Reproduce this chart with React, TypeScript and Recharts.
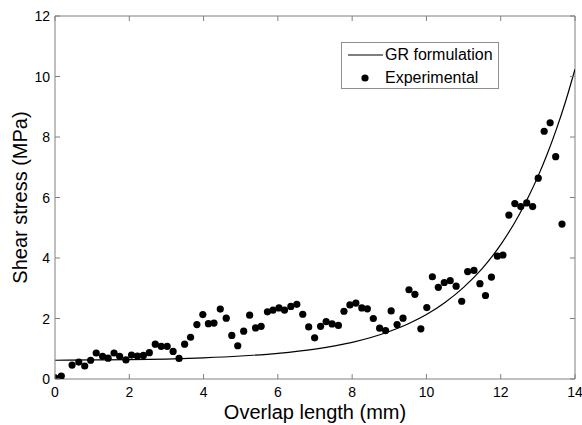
import React from "react";
import {
  ComposedChart,
  Line,
  Scatter,
  XAxis,
  YAxis,
  Legend,
  ReferenceLine,
} from "recharts";

// experimental points
const expX = [
  0.0, 0.17, 0.46, 0.64, 0.8, 0.96, 1.11, 1.28, 1.43, 1.59, 1.74, 1.91, 2.06,
  2.22, 2.38, 2.54, 2.7, 2.86, 3.02, 3.18, 3.34, 3.49, 3.65, 3.82, 3.98, 4.13,
  4.28, 4.45, 4.61, 4.76, 4.92, 5.08, 5.24, 5.4, 5.55, 5.72, 5.87, 6.03, 6.18,
  6.35, 6.51, 6.67, 6.83, 6.99, 7.15, 7.3, 7.46, 7.63, 7.78, 7.94, 8.1, 8.26,
  8.41, 8.57, 8.74, 8.9, 9.05, 9.21, 9.37, 9.53, 9.69, 9.85, 10.01, 10.16,
  10.32, 10.48, 10.64, 10.8, 10.95, 11.11, 11.28, 11.44, 11.59, 11.75, 11.91,
  12.06, 12.22, 12.38, 12.54, 12.7, 12.86, 13.01, 13.17, 13.33, 13.48, 13.65,
];
const expY = [
  0.04, 0.1, 0.46, 0.56, 0.43, 0.62, 0.86, 0.75, 0.69, 0.86, 0.75, 0.63, 0.79,
  0.76, 0.78, 0.87, 1.15, 1.08, 1.08, 0.91, 0.68, 1.15, 1.38, 1.8, 2.13, 1.83,
  1.85, 2.31, 2.01, 1.44, 1.1, 1.58, 2.11, 1.69, 1.74, 2.22, 2.28, 2.35, 2.28,
  2.4, 2.47, 2.14, 1.72, 1.36, 1.74, 1.9, 1.82, 1.77, 2.24, 2.45, 2.51, 2.35,
  2.32, 2.0, 1.68, 1.6, 2.25, 1.8, 2.01, 2.95, 2.8, 1.66, 2.36, 3.38, 3.03,
  3.19, 3.25, 3.07, 2.57, 3.55, 3.59, 3.15, 2.76, 3.37, 4.06, 4.1, 5.42, 5.8,
  5.7, 5.82, 5.7, 6.64, 8.19, 8.47, 7.35, 5.12,
];

// GR formulation curve
const grX = [0, 1, 2, 3, 4, 5, 6, 7, 8, 9, 9.5, 10, 10.5, 11, 11.5, 12, 12.5, 12.75, 13, 13.25, 13.5, 13.75, 14];
const grY = [
  0.62, 0.63, 0.64, 0.66, 0.7, 0.76, 0.85, 0.99, 1.21, 1.57, 1.82, 2.13, 2.53,
  3.03, 3.65, 4.44, 5.44, 6.03, 6.69, 7.43, 8.26, 9.19, 10.24,
];

const xTicks = [0, 2, 4, 6, 8, 10, 12, 14];
const yTicks = [0, 2, 4, 6, 8, 10, 12];

const expData = expX.map((x, i) => ({ x, y: expY[i] }));
const grData = grX.map((x, i) => ({ x, y: grY[i] }));

const FONT = "'Liberation Sans', Arial, Helvetica, sans-serif";
const AXIS = "#808080";
const W = 582;
const H = 425;
const PLOT_TOP = 16;
const PLOT_RIGHT = 575;

const XTick = (props: any) => {
  const { x, y, payload } = props;
  return (
    <g>
      <line x1={x} y1={y} x2={x} y2={y - 5} stroke={AXIS} />
      <line x1={x} y1={PLOT_TOP} x2={x} y2={PLOT_TOP + 5} stroke={AXIS} />
      <text x={x} y={y + 18} textAnchor="middle" fontSize={14} fontFamily={FONT} fill="#000">
        {payload.value}
      </text>
    </g>
  );
};

const YTick = (props: any) => {
  const { x, y, payload } = props;
  return (
    <g>
      <line x1={x} y1={y} x2={x + 5} y2={y} stroke={AXIS} />
      <line x1={PLOT_RIGHT} y1={y} x2={PLOT_RIGHT - 5} y2={y} stroke={AXIS} />
      <text x={x - 5} y={y + 5} textAnchor="end" fontSize={14} fontFamily={FONT} fill="#000">
        {payload.value}
      </text>
    </g>
  );
};

const Dot = (props: any) => <circle cx={props.cx} cy={props.cy} r={3.6} fill="#000" />;

const LegendBox = () => (
  <div
    style={{
      width: 156,
      height: 45,
      border: "1px solid #909090",
      background: "#fff",
      fontFamily: FONT,
      fontSize: 16,
      color: "#000",
      position: "relative",
    }}
  >
    <svg width={44} height={45} style={{ position: "absolute", left: 0, top: 0 }}>
      <line x1={6} y1={12} x2={41} y2={12} stroke="#000" strokeWidth={1.2} />
      <circle cx={23} cy={35} r={3.6} fill="#000" />
    </svg>
    <div style={{ position: "absolute", left: 43, top: 2, lineHeight: "19px" }}>GR formulation</div>
    <div style={{ position: "absolute", left: 43, top: 25, lineHeight: "19px" }}>Experimental</div>
  </div>
);

const App = () => {
  return (
    <div style={{ position: "absolute", left: 0, top: 0, width: W, height: H, background: "#fff" }}>
      <ComposedChart
        width={W}
        height={H}
        margin={{ top: PLOT_TOP, right: W - PLOT_RIGHT, bottom: 0, left: 0 }}
      >
        <XAxis
          type="number"
          dataKey="x"
          domain={[0, 14]}
          ticks={xTicks}
          interval={0}
          tickSize={0}
          tickMargin={0}
          tickLine={false}
          axisLine={{ stroke: AXIS }}
          tick={<XTick />}
          allowDataOverflow
          label={{
            value: "Overlap length (mm)",
            position: "insideBottom",
            offset: 0,
            dy: -6,
            style: { fontSize: 20, fontFamily: FONT, fill: "#000" },
          }}
          height={46}
        />
        <YAxis
          type="number"
          dataKey="y"
          domain={[0, 12]}
          ticks={yTicks}
          interval={0}
          tickSize={0}
          tickMargin={0}
          tickLine={false}
          axisLine={{ stroke: AXIS }}
          tick={<YTick />}
          allowDataOverflow
          width={55}
          label={{
            value: "Shear stress (MPa)",
            angle: -90,
            position: "insideLeft",
            offset: 20,
            style: { fontSize: 20, fontFamily: FONT, fill: "#000", textAnchor: "middle" },
          }}
        />
        <ReferenceLine y={12} stroke={AXIS} />
        <ReferenceLine x={14} stroke={AXIS} />
        <Line
          data={grData}
          dataKey="y"
          type="monotone"
          stroke="#000"
          strokeWidth={1.2}
          dot={false}
          activeDot={false}
          isAnimationActive={false}
        />
        <Scatter data={expData} dataKey="y" shape={<Dot />} isAnimationActive={false} />
        <Legend
          layout="horizontal"
          verticalAlign="middle"
          content={() => <LegendBox />}
          wrapperStyle={{ position: "absolute", left: 341, top: 42, width: 158 }}
        />
      </ComposedChart>
    </div>
  );
};

export default App;
